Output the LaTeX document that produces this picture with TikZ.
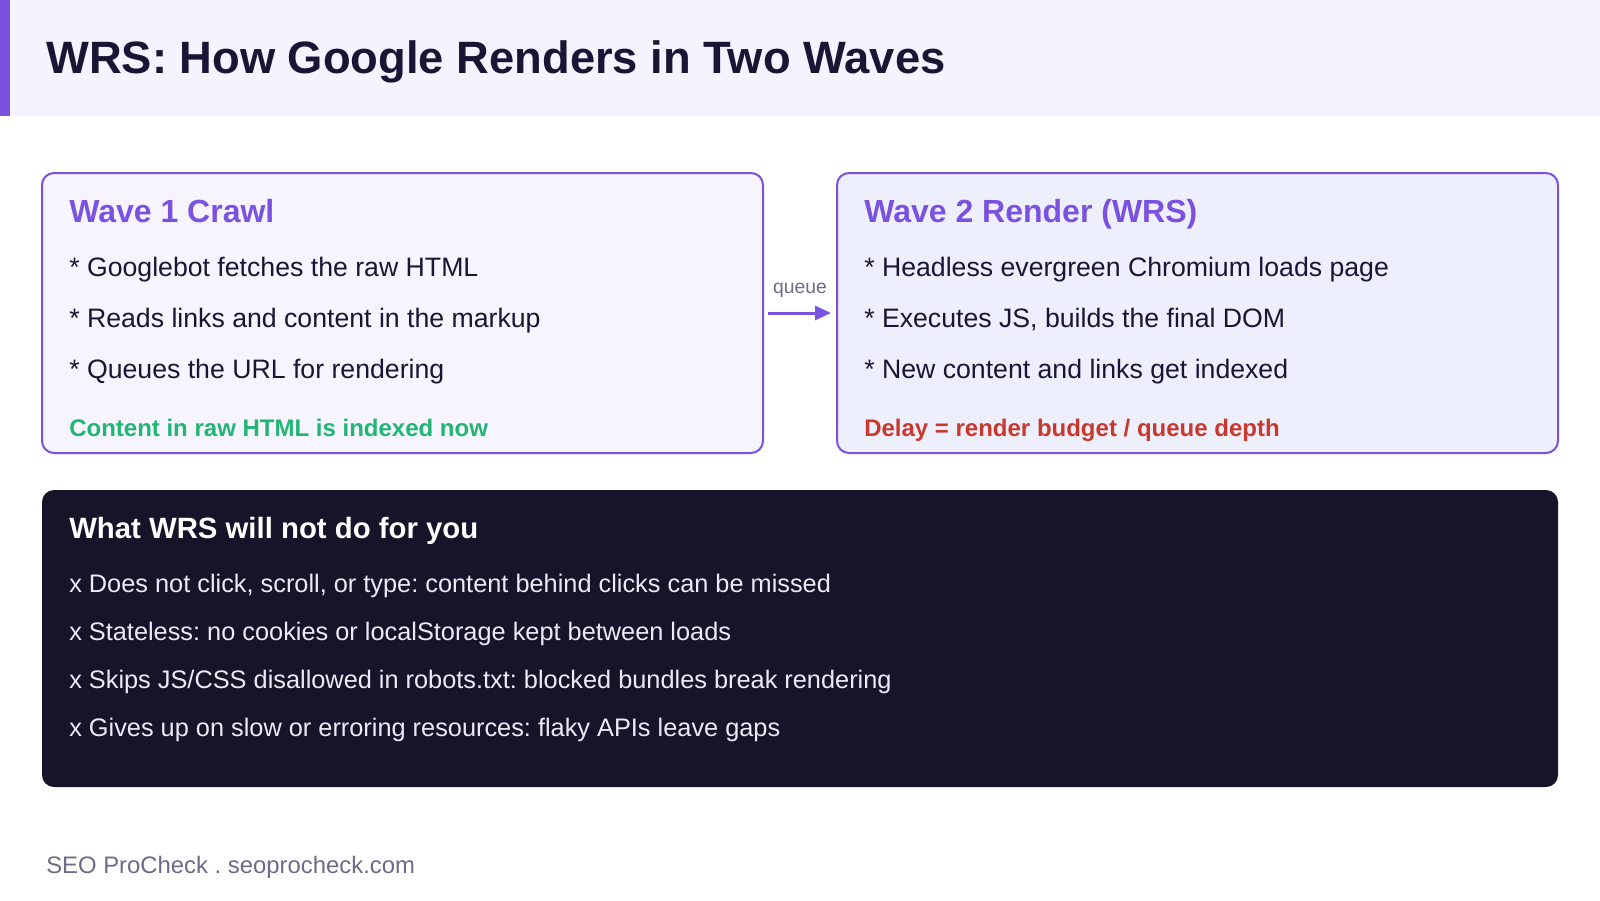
\documentclass[tikz,border=0pt]{standalone}
\usepackage{fontspec}
\setmainfont{Liberation Sans}
\usetikzlibrary{arrows.meta}
\usetikzlibrary{positioning}
\frenchspacing

\definecolor{accent}{HTML}{7B52E0}
\definecolor{headbg}{HTML}{F5F3FF}
\definecolor{ink}{HTML}{1B1535}
\definecolor{wavebgA}{HTML}{F6F4FF}
\definecolor{wavebgB}{HTML}{EEEFFD}
\definecolor{okgreen}{HTML}{22B573}
\definecolor{badred}{HTML}{C8382C}
\definecolor{darkbg}{HTML}{17142A}
\definecolor{muted}{HTML}{6E6A8A}
\definecolor{lighttxt}{HTML}{ECEAF4}

\tikzset{
  wavebox/.style={draw=accent,line width=1.5pt,rounded corners=9pt,minimum width=540.75pt,minimum height=210pt},
  wavetitle/.style={anchor=base west,inner sep=0pt,text=accent,font=\fontsize{24}{28}\selectfont\bfseries},
  item/.style={anchor=base west,inner sep=0pt,text=ink,font=\fontsize{20}{24}\selectfont},
  note/.style={anchor=base west,inner sep=0pt,font=\fontsize{18}{22}\selectfont\bfseries},
  darkitem/.style={anchor=base west,inner sep=0pt,text=lighttxt,font=\fontsize{19}{23}\selectfont},
  flow/.style={draw=accent,line width=2.25pt,-{Triangle[length=12pt,width=10.5pt]}}
}

\begin{document}
\begin{tikzpicture}[x=0.75pt,y=-0.75pt]
\useasboundingbox (0,0) rectangle (1600,900);

% header band
\fill[headbg] (0,0) rectangle (1600,116);
\fill[accent] (0,0) rectangle (10,116);
\node[anchor=base west,inner sep=0pt,text=ink,font=\fontsize{34}{40}\selectfont\bfseries] (title) at (46,73) {WRS: How Google Renders in Two Waves};

% the two waves
\node[wavebox,fill=wavebgA] (crawl) at (402.5,313) {};
\node[wavebox,fill=wavebgB] (render) at (1197.5,313) {};

\node[wavetitle] (crawlt) at (69,222) {Wave 1 Crawl};
\node[item] (c1) at (69,276) {* Googlebot fetches the raw HTML};
\node[item] (c2) at (69,327) {* Reads links and content in the markup};
\node[item] (c3) at (69,378) {* Queues the URL for rendering};
\node[note,text=okgreen] (cnote) at (69,436) {Content in raw HTML is indexed now};

\node[wavetitle] (rendert) at (864,222) {Wave 2 Render (WRS)};
\node[item] (r1) at (864,276) {* Headless evergreen Chromium loads page};
\node[item] (r2) at (864,327) {* Executes JS, builds the final DOM};
\node[item] (r3) at (864,378) {* New content and links get indexed};
\node[note,text=badred] (rnote) at (864,436) {Delay = render budget / queue depth};

% queue connector
\draw[flow,shorten <=3pt,shorten >=3.75pt] (crawl.east) -- (render.west);
\node[anchor=base,inner sep=0pt,text=muted,font=\fontsize{14.5}{18}\selectfont] (queue) at (800,293) {queue};

% limits panel
\node[fill=darkbg,rounded corners=9pt,minimum width=1137pt,minimum height=222.75pt] (limits) at (800,638.5) {};
\node[anchor=base west,inner sep=0pt,text=white,font=\fontsize{22}{26}\selectfont\bfseries] (limitst) at (69,538) {What WRS will not do for you};
\node[darkitem] (l1) at (69,592) {x Does not click, scroll, or type: content behind clicks can be missed};
\node[darkitem] (l2) at (69,640) {x Stateless: no cookies or localStorage kept between loads};
\node[darkitem] (l3) at (69,688) {x Skips JS/CSS disallowed in robots.txt: blocked bundles break rendering};
\node[darkitem] (l4) at (69,736) {x Gives up on slow or erroring resources: flaky APIs leave gaps};

% footer
\node[anchor=base west,inner sep=0pt,text=muted,font=\fontsize{17.9}{21}\selectfont] (brand) at (46,873) {SEO ProCheck . seoprocheck.com};

\end{tikzpicture}
\end{document}
